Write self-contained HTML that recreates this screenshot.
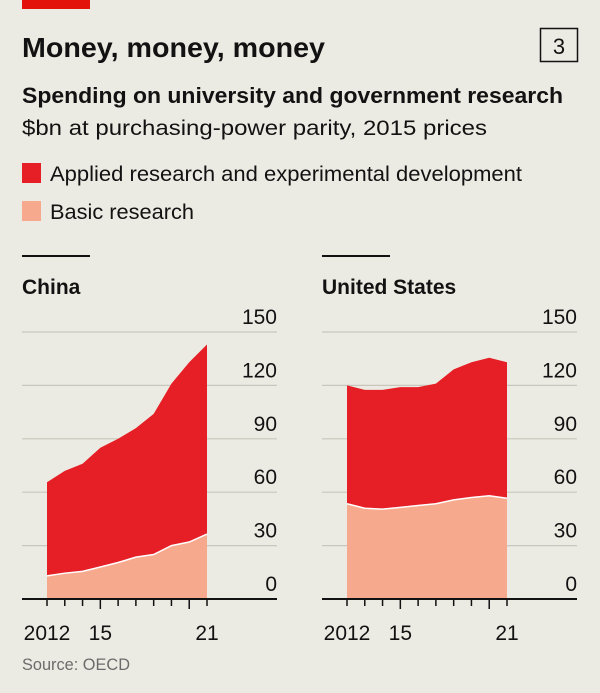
<!DOCTYPE html>
<html><head><meta charset="utf-8"><style>
html,body{margin:0;padding:0;background:#ecebe3;}
svg{display:block;font-family:"Liberation Sans",sans-serif;}
</style></head><body>
<svg width="600" height="693" viewBox="0 0 600 693">
<rect x="0" y="0" width="600" height="693" fill="#ecebe3"/>
<rect x="22" y="0" width="68" height="9" fill="#e3120b"/>
<text x="22" y="57" font-size="28" font-weight="bold" fill="#121212" textLength="303" lengthAdjust="spacingAndGlyphs">Money, money, money</text>
<rect x="540.5" y="28.5" width="37" height="33" fill="none" stroke="#121212" stroke-width="1.5"/>
<text x="559" y="54" font-size="22" text-anchor="middle" fill="#121212">3</text>
<text x="22" y="103" font-size="22" font-weight="bold" fill="#121212" textLength="541" lengthAdjust="spacingAndGlyphs">Spending on university and government research</text>
<text x="22" y="135" font-size="21" fill="#121212" textLength="465" lengthAdjust="spacingAndGlyphs">$bn at purchasing-power parity, 2015 prices</text>
<rect x="22" y="163" width="19" height="20" fill="#e61e25"/>
<text x="50" y="181" font-size="21" fill="#121212" textLength="472" lengthAdjust="spacingAndGlyphs">Applied research and experimental development</text>
<rect x="22" y="201" width="19" height="20" fill="#f7a98e"/>
<text x="50" y="219" font-size="21" fill="#121212" textLength="144" lengthAdjust="spacingAndGlyphs">Basic research</text>
<g id="panels"></g>
<text x="22" y="670" font-size="17" fill="#6b6b6b" textLength="108" lengthAdjust="spacingAndGlyphs">Source: OECD</text>
</svg>
<script>
const years = [2012,2013,2014,2015,2016,2017,2018,2019,2020,2021];
const chinaBasic = [13,14.5,15.5,18,20.5,23.5,25,30,32,36.5];
const chinaApplied = [52.6,57.5,60.5,67,69.5,72.5,79,91,101,106.5];
const usBasic = [53.5,51,50.5,51.5,52.5,53.5,55.7,57,58,56.6];
const usApplied = [66.5,66.5,67,67.5,66.5,67.5,73.3,76,77.5,76.4];
const yTicks = [0,30,60,90,120,150];
const xLabels = ["2012","15","21"];
const xLabelYears = [2012,2015,2021];
const panelNames = ["China","United States"];

const NS="http://www.w3.org/2000/svg";
const g=document.getElementById('panels');
function mk(tag,attrs,parent){const e=document.createElementNS(NS,tag);for(const k in attrs)e.setAttribute(k,attrs[k]);(parent||g).appendChild(e);return e;}
const y0=599, y150=332;
function yS(v){return y0-(v/150)*(y0-y150);}
function drawPanel(ox,name,basic,applied){
  function xS(yr){return ox+47+(yr-2012)*(160/9);}
  const t=mk('text',{x:ox+22,y:294,'font-size':21,'font-weight':'bold',fill:'#121212'});
  
  
  t.textContent=name;
  const rl=mk('rect',{x:ox+22,y:255,width:68,height:2,fill:'#121212'});
  
  
  yTicks.forEach(v=>{
    if(v>0){const gl=mk('line',{x1:ox+22,x2:ox+277,y1:yS(v),y2:yS(v),stroke:'#c8c6bd','stroke-width':1.2});
    
    }
    const tl=mk('text',{x:ox+277,y:yS(v)-8,'font-size':21,'text-anchor':'end',fill:'#121212'});
    
    
    tl.textContent=v;
  });
  const tot=basic.map((b,i)=>b+applied[i]);
  let top=years.map((yr,i)=>xS(yr)+','+yS(tot[i])).join(' ');
  let mid=years.map((yr,i)=>xS(yr)+','+yS(basic[i])).join(' ');
  let midRev=years.slice().reverse().map((yr,j)=>{const i=years.length-1-j;return xS(yr)+','+yS(basic[i]);}).join(' ');
  const a=mk('polygon',{points:top+' '+midRev,fill:'#e61e25'});
  
  
  const b=mk('polygon',{points:mid+' '+xS(2021)+','+y0+' '+xS(2012)+','+y0,fill:'#f7a98e'});
  
  
  const bl=mk('polyline',{points:mid,fill:'none',stroke:'#fff','stroke-width':1.5});
  
  
  const ax=mk('line',{x1:ox+22,x2:ox+277,y1:y0,y2:y0,stroke:'#121212','stroke-width':2});
  
  
  years.forEach(yr=>{
    const long=(yr===2015||yr===2020);
    const tk=mk('line',{x1:xS(yr),x2:xS(yr),y1:y0,y2:y0+(long?10:7),stroke:'#121212','stroke-width':1.5});
    
    
  });
  xLabels.forEach((lb,i)=>{
    const anchor=i===0?'middle':'middle';
    const xl=mk('text',{x:xS(xLabelYears[i]),y:640,'font-size':21,'text-anchor':anchor,fill:'#121212'});
    
    
    xl.textContent=lb;
  });
}
drawPanel(0,panelNames[0],chinaBasic,chinaApplied);
drawPanel(300,panelNames[1],usBasic,usApplied);
</script>
</body></html>
